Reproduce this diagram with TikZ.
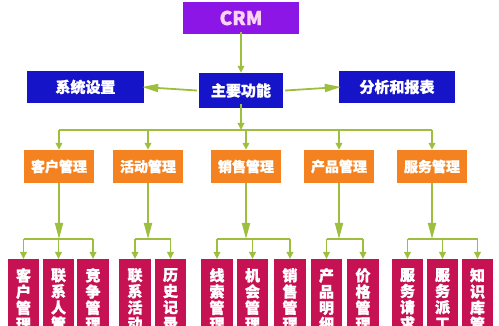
\documentclass[tikz,border=0pt]{standalone}
\usepackage{fontspec}
\newfontfamily\cjk{Noto Sans CJK SC}[BoldFeatures={FakeBold=1.2}]
\usetikzlibrary{arrows.meta,positioning,calc}
\usepackage{xcolor}
\definecolor{cajacrm}{RGB}{140,22,230}
\definecolor{textocrm}{RGB}{250,212,242}
\definecolor{cajafunc}{RGB}{22,20,200}
\definecolor{cajamodulo}{RGB}{245,130,32}
\definecolor{cajasub}{RGB}{198,18,82}
\definecolor{lineaverde}{RGB}{158,190,62}
\newcommand{\funcbox}[5]{%
  \node[rectangle, fill=#2, text=white, inner sep=0pt,
        minimum width=#3, minimum height=#4, #5] (#1) }
\newcommand{\subbox}[1]{%
  \node[rectangle, fill=cajasub, text=white, anchor=north, align=center,
        minimum width=31.5pt, inner xsep=0pt, inner ysep=9pt,
        font=\cjk\bfseries\fontsize{15}{16.2}\selectfont] (#1) }

\begin{document}
\begin{tikzpicture}[x=1pt, y=-1pt,
  link/.style={draw=lineaverde, line width=1.8pt},
  flow/.style={link, -{Triangle[length=7pt, width=6.5pt]}},
  bigflow/.style={link, -{Triangle[length=16pt, width=8pt]}}]

\clip (0,0) rectangle (499,326);

% top levels
\funcbox{crm}{cajacrm}{116pt}{32pt}{text=textocrm,
  font=\cjk\bfseries\fontsize{19}{19}\selectfont} at (241,18) {CRM};
\funcbox{main}{cajafunc}{84pt}{35pt}{font=\cjk\bfseries\fontsize{15}{15}\selectfont}
  at (241,90.5) {主要功能};
\funcbox{sys}{cajafunc}{117pt}{32pt}{font=\cjk\bfseries\fontsize{15}{15}\selectfont}
  at (85.5,87) {系统设置};
\funcbox{ana}{cajafunc}{116pt}{32pt}{font=\cjk\bfseries\fontsize{15}{15}\selectfont}
  at (397,87) {分析和报表};

% modules
\foreach \n/\x/\t in {cust/59/客户管理, act/148/活动管理, sale/246/销售管理,
                      prod/339/产品管理, serv/432/服务管理}
  \funcbox{\n}{cajamodulo}{70pt}{33pt}{font=\cjk\bfseries\fontsize{14}{14}\selectfont}
    at (\x,166.5) {\t};

% sub modules
\subbox{custA} at (23.5,259) {客\\户\\管\\理};
\subbox{custB} at (58.5,259) {联\\系\\人\\管};
\subbox{custC} at (93,259) {竞\\争\\管\\理};
\subbox{actA} at (135,259) {联\\系\\活\\动};
\subbox{actB} at (170.5,259) {历\\史\\记\\录};
\subbox{saleA} at (217,259) {线\\索\\管\\理};
\subbox{saleB} at (252.5,259) {机\\会\\管\\理};
\subbox{saleC} at (290,259) {销\\售\\管\\理};
\subbox{prodA} at (326.5,259) {产\\品\\明\\细};
\subbox{prodB} at (363,259) {价\\格\\管\\理};
\subbox{servA} at (407.5,259) {服\\务\\请\\求};
\subbox{servB} at (442.5,259) {服\\务\\派\\工};
\subbox{servC} at (477.5,259) {知\\识\\库\\管};

\coordinate (topbus) at (241,130);
\coordinate (lowbus) at (0,239);

\draw[flow] ([yshift=2pt]crm.south) -- (main.north);
\draw[bigflow] ([xshift=-2pt]main.west) -- ([xshift=-2pt]sys.east);
\draw[bigflow] ([xshift=2pt]main.east) -- ([xshift=2pt]ana.west);
\draw[flow] ([yshift=4pt]main.south) -- (topbus);
\draw[link] (cust.north |- topbus) -- (serv.north |- topbus);
\foreach \n in {cust,act,sale,prod,serv}
  \draw[flow] (\n.north |- topbus) -- (\n.north);

% groups below the modules
\foreach \n/\a/\b in {cust/custA/custC, act/actA/actB, sale/saleA/saleC,
                      prod/prodA/prodB, serv/servA/servC} {
  \draw[bigflow] (\n.south) -- (\n.south |- lowbus);
  \draw[link] (\a.north |- lowbus) -- (\b.north |- lowbus);
}
\foreach \b in {custA,custB,custC,actA,actB,saleA,saleB,saleC,
                prodA,prodB,servA,servB,servC}
  \draw[flow] (\b.north |- lowbus) -- (\b.north);

\end{tikzpicture}
\end{document}
